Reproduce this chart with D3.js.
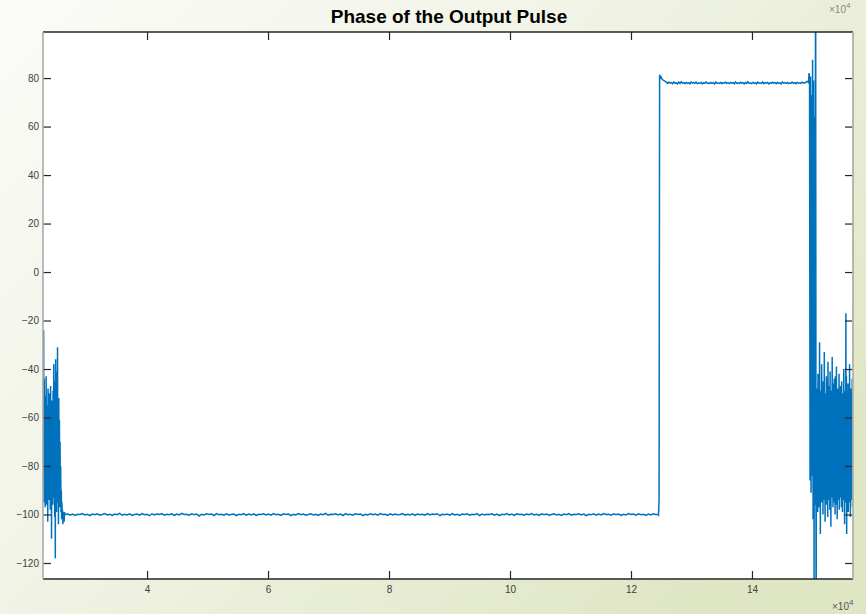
<!DOCTYPE html>
<html>
<head>
<meta charset="utf-8">
<script src="https://cdn.jsdelivr.net/npm/d3@7"></script>
<style>
  html, body { margin: 0; padding: 0; background: #fff; }
  svg { display: block; }
  text { font-family: "Liberation Sans", Arial, Helvetica, sans-serif; }
</style>
</head>
<body>
<svg id="chart" width="866" height="614"></svg>
<script>
// Phase of the output pulse, sampled trace split into segments (x in units of 1e4 samples)
const burstStartY = [-58,-86,-24,-95,-44,-93,-66,-97,-51,-90,-43,-96,-60,-88,-55,-103,-48,-91,-62,-94,-50,-89,-57,-98,-47,-92,-63,-110,-53,-87,-56,-96,-49,-93,-38,-90,-59,-101,-45,-118,-36,-92,-54,-99,-41,-95,-31,-88,-57,-104,-52,-93,-61,-97,-70,-92,-80,-99,-90,-102,-95,-100,-98,-104,-99,-101,-100,-103,-99,-100];
const floorY = [
  -100.1,-99.7,-100.3,-99.8,-100.4,-99.9,-100.0,-99.6,-100.2,-99.9,-100.5,-99.8,-100.1,-99.7,-100.3,-100.0,-99.6,-100.2,-99.9,-100.4,
  -99.8,-100.1,-99.5,-100.3,-99.9,-100.2,-99.7,-100.4,-100.0,-99.8,-100.3,-99.6,-100.1,-99.9,-100.5,-99.7,-100.2,-99.8,-100.0,-99.6,
  -100.3,-99.9,-100.1,-99.7,-100.4,-99.8,-100.2,-99.5,-100.0,-99.9,-100.3,-99.7,-100.1,-99.8,-100.6,-99.9,-100.2,-99.7,-100.0,-99.8,
  -100.4,-99.6,-100.1,-99.9,-100.3,-99.7,-100.2,-100.0,-99.8,-100.5,-99.9,-100.1,-99.6,-100.3,-99.8,-100.2,-99.7,-100.4,-99.9,-100.0,
  -99.7,-100.2,-99.8,-100.3,-99.6,-100.1,-99.9,-100.4,-99.7,-100.0,-99.8,-100.5,-99.9,-100.2,-99.6,-100.1,-99.8,-100.3,-100.0,-99.7,
  -100.2,-99.9,-100.4,-99.8,-100.1,-99.5,-100.3,-99.9,-100.0,-99.7,-100.2,-99.8,-100.4,-99.6,-100.1,-99.9,-100.3,-99.7,-100.0,-99.8,
  -100.5,-99.9,-100.2,-99.7,-100.1,-99.8,-100.3,-99.6,-100.0,-99.9,-100.4,-99.7,-100.2,-99.8,-100.1,-100.0,-99.6,-100.3,-99.9,-100.2,
  -99.7,-100.4,-99.8,-100.1,-99.9,-100.3,-99.6,-100.2,-99.8,-100.0,-99.7,-100.5,-99.9,-100.1,-99.8,-100.3,-99.6,-100.2,-99.9,-100.4,
  -99.8,-100.0,-99.7,-100.3,-99.9,-100.1,-99.6,-100.4,-99.8,-100.2,-99.9,-100.0,-99.7,-100.3,-99.8,-100.5,-99.9,-100.1,-99.6,-100.2,
  -99.8,-100.4,-99.7,-100.0,-99.9,-100.3,-99.8,-100.1,-99.6,-100.2,-99.9,-100.4,-99.7,-100.1,-99.8,-100.3,-100.0,-99.7,-100.2,-99.9,
  -100.4,-99.8,-100.1,-99.6,-100.3,-99.9,-100.0,-99.7,-100.2,-99.8,-100.5,-99.9,-100.1,-99.7,-100.3,-99.8,-100.2,-99.6,-100.0,-99.9,
  -100.3,-99.7,-100.1,-99.8,-100.4,-99.9,-100.2,-99.6,-100.0,-99.8,-100.3,-99.7,-100.1,-99.9,-100.4,-99.8,-100.2,-99.7,-100.0,-99.9
];
const riseY = [-100.1,-94,81.4,79.7,80.9,80.2];
const plateauY = [
  79.8,79.3,78.9,78.6,78.3,77.8,78.3,77.9,78.1,77.7,78.4,77.9,78.0,77.6,78.3,77.8,78.5,77.9,78.1,77.7,
  78.2,77.8,78.0,77.6,78.4,77.9,78.1,77.8,78.3,77.7,78.0,77.9,78.2,77.6,78.1,77.8,78.4,77.9,78.0,77.7,
  78.2,77.8,78.1,77.6,78.3,77.9,78.0,77.8,78.2,77.7,78.1,77.9,78.3,77.8,78.0,77.7,78.2,77.9,78.1,77.6,
  78.4,77.8,78.0,77.7,78.3,77.9,78.1,77.6,78.2,77.8,78.5,77.9,78.0,77.7,78.2,77.8,78.1,77.6,78.3,77.9,
  78.0,77.8,78.4,77.7,78.1,77.9,78.2,77.6,78.0,77.8,78.3,77.9,78.1,77.7,78.2,77.8,78.0,77.6,78.4,77.9,
  78.1,77.8,78.2,77.7,78.0,77.9,78.3,77.8,78.1,77.7,78.2,77.9,78.0,77.8,78.3,77.9,78.1,78.2,78.6,78.4
];
const breakupY = [78.2,82.1,79.5,-86,80.6,-91,73,-84,87.6,-102,79,-130,64,-96,160,-160];
const burstEndY = [
  -64,-92,-48,-88,-57,-99,-42,-85,-68,-97,-53,-90,-29,-84,-61,-108,-49,-93,-56,-87,
  -38,-95,-64,-89,-51,-100,-45,-86,-58,-94,-33,-91,-62,-103,-50,-88,-55,-96,-43,-85,
  -66,-92,-52,-101,-37,-89,-59,-94,-47,-87,-54,-98,-41,-90,-63,-105,-49,-86,-57,-93,
  -35,-91,-61,-97,-46,-88,-53,-95,-44,-84,-59,-100,-43,-90,-56,-96,-39,-87,-64,-102,
  -51,-89,-48,-94,-58,-91,-42,-98,-55,-86,-60,-93,-47,-89,-53,-97,-45,-85,-62,-99,
  -50,-90,-57,-94,-40,-88,-66,-104,-52,-91,-49,-95,-17,-87,-43,-108,-59,-90,-51,-93,
  -46,-99,-62,-88,-54,-95,-38,-92,-58,-101,-48,-86,-61,-94,-50,-90,-44,-97,-57,-89
];

// Sample span covered by each segment (start, end) in 1e4 samples
const segments = [
  { span: [2.28, 2.64], y: burstStartY },
  { span: [2.645, 12.45], y: floorY },
  { span: [12.455, 12.50], y: riseY },
  { span: [12.505, 14.93], y: plateauY },
  { span: [14.935, 15.06], y: breakupY },
  { span: [15.065, 15.67], y: burstEndY }
];

const xTicks = [4, 6, 8, 10, 12, 14];
const yTicks = [-120, -100, -80, -60, -40, -20, 0, 20, 40, 60, 80];
const xDomain = [2.28, 15.67];
const yDomain = [-126.6, 99.0];

const W = 866, H = 614;
const plot = { left: 43, right: 853, top: 32, bottom: 579 };

const svg = d3.select("#chart");

// figure background
const defs = svg.append("defs");
const grad = defs.append("linearGradient").attr("id", "bg")
  .attr("x1", "0").attr("y1", "0").attr("x2", "1").attr("y2", "0.7");
grad.append("stop").attr("offset", "0").attr("stop-color", "#fbfbf8");
grad.append("stop").attr("offset", "0.45").attr("stop-color", "#f1f4e6");
grad.append("stop").attr("offset", "1").attr("stop-color", "#dfe6c4");
svg.append("rect").attr("width", W).attr("height", H).attr("fill", "url(#bg)");

defs.append("clipPath").attr("id", "plotclip").append("rect")
  .attr("x", plot.left).attr("y", plot.top)
  .attr("width", plot.right - plot.left).attr("height", plot.bottom - plot.top);

const x = d3.scaleLinear().domain(xDomain).range([plot.left, plot.right]);
const y = d3.scaleLinear().domain(yDomain).range([plot.bottom, plot.top]);

// axes area
svg.append("rect")
  .attr("x", plot.left).attr("y", plot.top)
  .attr("width", plot.right - plot.left).attr("height", plot.bottom - plot.top)
  .attr("fill", "#fff");

// samples: each segment's values spread evenly across its span
const points = [];
segments.forEach(s => {
  const n = s.y.length;
  s.y.forEach((v, i) => {
    points.push([s.span[0] + (s.span[1] - s.span[0]) * (n > 1 ? i / (n - 1) : 0), v]);
  });
});

const line = d3.line().x(d => x(d[0])).y(d => y(d[1]));
svg.append("g").attr("clip-path", "url(#plotclip)")
  .append("path")
  .datum(points)
  .attr("d", line)
  .attr("fill", "none")
  .attr("stroke", "#0072bd")
  .attr("stroke-width", 1.5)
  .attr("stroke-linejoin", "miter");

// axes with inward ticks
const tickLen = 8;
const styleAxis = g => {
  g.select(".domain").remove();
  g.selectAll(".tick line").attr("stroke", "#262626").attr("stroke-width", 1.2);
  g.selectAll(".tick text").attr("fill", "#404040").style("font-size", "10px");
};

svg.append("g").attr("transform", `translate(0,${plot.bottom})`)
  .call(d3.axisBottom(x).tickValues(xTicks).tickSizeInner(-tickLen).tickSizeOuter(0).tickPadding(7).tickFormat(d3.format("d")))
  .call(styleAxis);
svg.append("g").attr("transform", `translate(0,${plot.top})`)
  .call(d3.axisTop(x).tickValues(xTicks).tickSizeInner(-tickLen).tickSizeOuter(0).tickFormat(""))
  .call(styleAxis);
svg.append("g").attr("transform", `translate(${plot.left},0)`)
  .call(d3.axisLeft(y).tickValues(yTicks).tickSizeInner(-tickLen).tickSizeOuter(0).tickPadding(4).tickFormat(d3.format("d")))
  .call(styleAxis);
svg.append("g").attr("transform", `translate(${plot.right},0)`)
  .call(d3.axisRight(y).tickValues(yTicks).tickSizeInner(-tickLen).tickSizeOuter(0).tickFormat(""))
  .call(styleAxis);

// axes box
svg.append("line").attr("x1", plot.left).attr("x2", plot.right).attr("y1", plot.top).attr("y2", plot.top)
  .attr("stroke", "#262626").attr("stroke-width", 1.3);
svg.append("line").attr("x1", plot.left).attr("x2", plot.right).attr("y1", plot.bottom).attr("y2", plot.bottom)
  .attr("stroke", "#262626").attr("stroke-width", 1.3);
svg.append("line").attr("x1", plot.left).attr("x2", plot.left).attr("y1", plot.top).attr("y2", plot.bottom)
  .attr("stroke", "#a9aba4").attr("stroke-width", 1.6);
svg.append("line").attr("x1", plot.right).attr("x2", plot.right).attr("y1", plot.top).attr("y2", plot.bottom)
  .attr("stroke", "#b0b2a8").attr("stroke-width", 1.8);

// exponent labels
const xExp = svg.append("text").attr("x", 832).attr("y", 610).attr("fill", "#555").style("font-size", "10px");
xExp.append("tspan").text("×10");
xExp.append("tspan").attr("dy", -5).style("font-size", "8px").text("4");
const yExp = svg.append("text").attr("x", 829).attr("y", 13).attr("fill", "#888").style("font-size", "10px");
yExp.append("tspan").text("×10");
yExp.append("tspan").attr("dy", -5).style("font-size", "8px").text("4");

// title
svg.append("text").attr("x", 449).attr("y", 23).attr("text-anchor", "middle")
  .attr("fill", "#000").style("font-size", "19px").style("font-weight", "bold")
  .text("Phase of the Output Pulse");
</script>
</body>
</html>
